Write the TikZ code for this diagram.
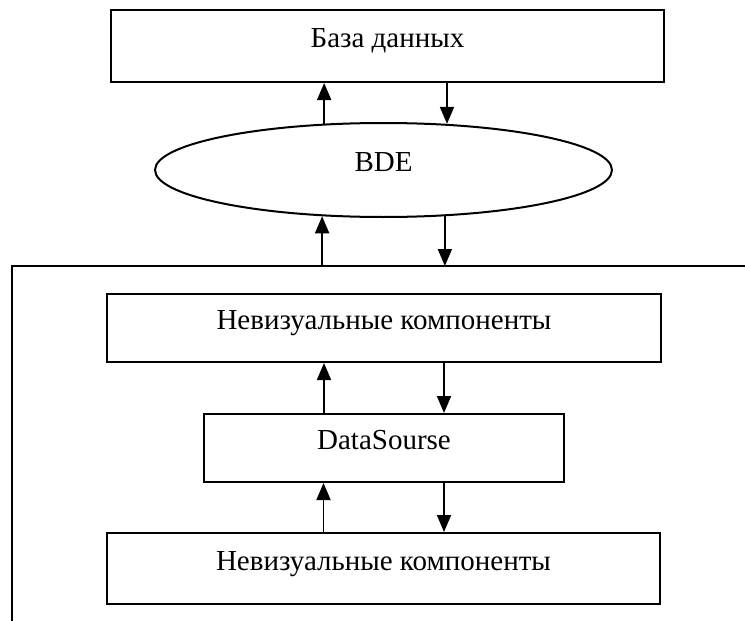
\documentclass[tikz,border=0pt]{standalone}
\usepackage{fontspec}
\setmainfont{Liberation Serif}
\usetikzlibrary{positioning,calc,arrows.meta,shapes.geometric}

\begin{document}
\begin{tikzpicture}
    [x=1pt,y=-1pt,
      >={Triangle[width=14pt,length=17pt]},
      box/.style={rectangle,draw,line width=2pt,inner sep=0pt,
        font=\fontsize{29}{34}\selectfont,text height=0.66em,text depth=0.3em},
      oval/.style={ellipse,draw,line width=2pt,inner sep=0pt,
        font=\fontsize{29}{34}\selectfont,text height=0.66em,text depth=0.35em},
      link/.style={->,line width=1.8pt}]

    \useasboundingbox (0,0) rectangle (745,621);

    \node [box,minimum width=553pt,minimum height=72pt] (db) at (387.5,46) {База данных};

    \node [oval,minimum width=457pt,minimum height=94pt] (bde) at (383.5,170) {BDE};

    % outer frame, cut by the page edge
    \coordinate (frm) at (12,266);
    \draw [line width=2pt] (12,625) -- (frm) -- (750,266);

    \node [box,minimum width=554pt,minimum height=68pt] (comp1) at (384,328) {Невизуальные компоненты};

    \node [box,minimum width=360pt,minimum height=68pt] (src) at (384,448) {DataSourse};

    \node [box,minimum width=553pt,minimum height=71pt] (comp2) at (383.5,568.5) {Невизуальные компоненты};

    \draw [link] (bde.142.7) -- (bde.142.7 |- db.south);
    \draw [link] (bde.36.8 |- db.south) -- (bde.36.8);

    \draw [link] (bde.217.3 |- frm) -- (bde.217.3);
    \draw [link] (bde.323.2) -- (bde.323.2 |- frm);

    \draw [link] ([xshift=-60pt]src.north) -- ([xshift=-60pt]src.north |- comp1.south);
    \draw [link] ([xshift=60pt]comp1.south) -- ([xshift=60pt]comp1.south |- src.north);

    \draw [link] ([xshift=-60pt]comp2.north) -- ([xshift=-60pt]comp2.north |- src.south);
    \draw [link] ([xshift=60pt]src.south) -- ([xshift=60pt]src.south |- comp2.north);
  \end{tikzpicture}
\end{document}
